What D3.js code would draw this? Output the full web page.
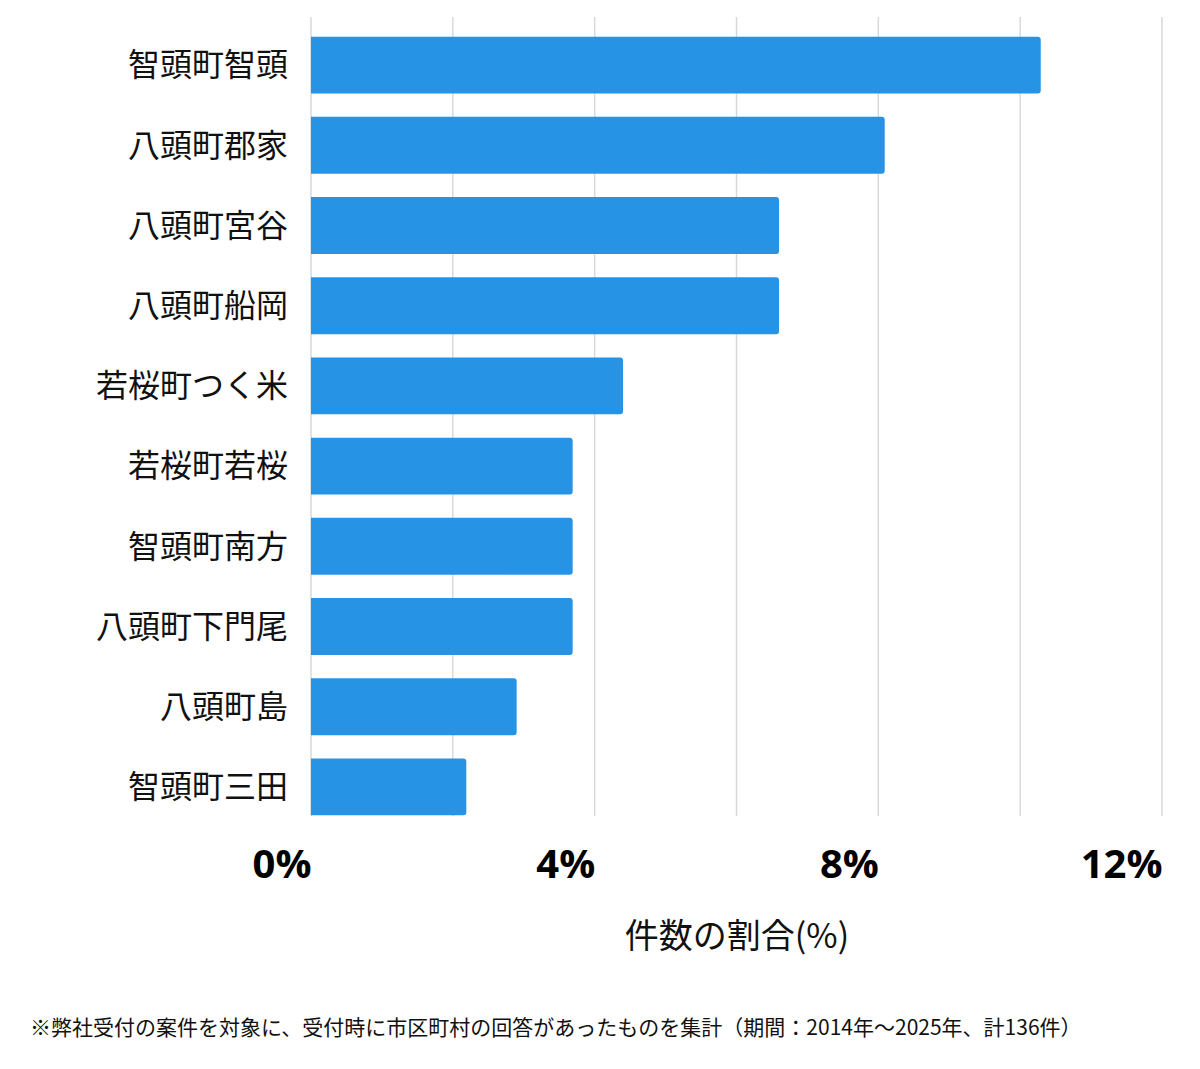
<!DOCTYPE html>
<html>
<head>
<meta charset="utf-8">
<script src="https://cdn.jsdelivr.net/npm/d3@7"></script>
<style>
  body { margin: 0; background: #fff; }
</style>
</head>
<body>
<div id="chart"></div>
<script>
const areaNames = ["智頭町智頭", "八頭町郡家", "八頭町宮谷", "八頭町船岡", "若桜町つく米", "若桜町若桜", "智頭町南方", "八頭町下門尾", "八頭町島", "智頭町三田"];
const shares = [10.29, 8.09, 6.60, 6.60, 4.40, 3.69, 3.69, 3.69, 2.90, 2.19];
const tickValues = [0, 4, 8, 12];
const gridValues = [0, 2, 4, 6, 8, 10, 12];
const axisTitle = "件数の割合(%)";
const footnote = "※弊社受付の案件を対象に、受付時に市区町村の回答があったものを集計（期間：2014年～2025年、計136件）";

const wSvg = 1200;
const hSvg = 1069;
const cjkFont = "'Noto Sans CJK JP', 'Noto Sans', sans-serif";

let xScale = d3.scaleLinear([0, 12], [311, 1162]);
let yScale = d3.scaleBand(areaNames, [25, 827]).paddingInner(0.29).paddingOuter(0.145);

let svg = d3.select("#chart")
    .append("svg")
    .attr("width", wSvg)
    .attr("height", hSvg)
    .style("background-color", "white");

// grid
svg.append("g")
    .selectAll("line")
    .data(gridValues)
    .enter()
    .append("line")
    .attr("x1", d => xScale(d))
    .attr("x2", d => xScale(d))
    .attr("y1", 17)
    .attr("y2", 816)
    .attr("stroke", "#d9d9d9")
    .attr("stroke-width", 1.5);

// bars, rounded on the right end only
const r = 3;
svg.append("g")
    .selectAll("path")
    .data(areaNames)
    .enter()
    .append("path")
    .attr("fill", "#2793e5")
    .attr("d", (d, i) => {
        let x0 = xScale(0);
        let x1 = xScale(shares[i]);
        let y0 = yScale(d);
        let h = yScale.bandwidth();
        return `M${x0},${y0} H${x1 - r} Q${x1},${y0} ${x1},${y0 + r} V${y0 + h - r} Q${x1},${y0 + h} ${x1 - r},${y0 + h} H${x0} Z`;
    });

// y axis labels
let yAxis = d3.axisLeft(yScale).tickSize(0).tickPadding(0);
svg.append("g")
    .attr("transform", "translate(288, 0)")
    .call(yAxis)
    .call(g => g.select(".domain").remove())
    .selectAll("text")
    .style("font-family", cjkFont)
    .style("font-size", "32px")
    .attr("fill", "#111")
    .attr("dy", "0.35em");

// x axis labels (right aligned on the tick)
let xAxis = d3.axisBottom(xScale).tickValues(tickValues).tickFormat(d => d + "%").tickSize(0);
svg.append("g")
    .attr("transform", "translate(0, 840)")
    .call(xAxis)
    .call(g => g.select(".domain").remove())
    .selectAll("text")
    .style("font-family", "'Open Sans', 'Noto Sans', sans-serif")
    .style("font-weight", "bold")
    .style("font-size", "40px")
    .attr("fill", "#000")
    .attr("text-anchor", "end")
    .attr("y", 0)
    .attr("dy", "0.96em");

svg.append("text")
    .attr("x", 737)
    .attr("y", 948)
    .attr("text-anchor", "middle")
    .style("font-family", cjkFont)
    .style("font-size", "34px")
    .attr("fill", "#111")
    .text(axisTitle);

svg.append("text")
    .attr("x", 30)
    .attr("y", 1035)
    .style("font-family", cjkFont)
    .style("font-size", "21px")
    .attr("fill", "#111")
    .text(footnote);
</script>
</body>
</html>
